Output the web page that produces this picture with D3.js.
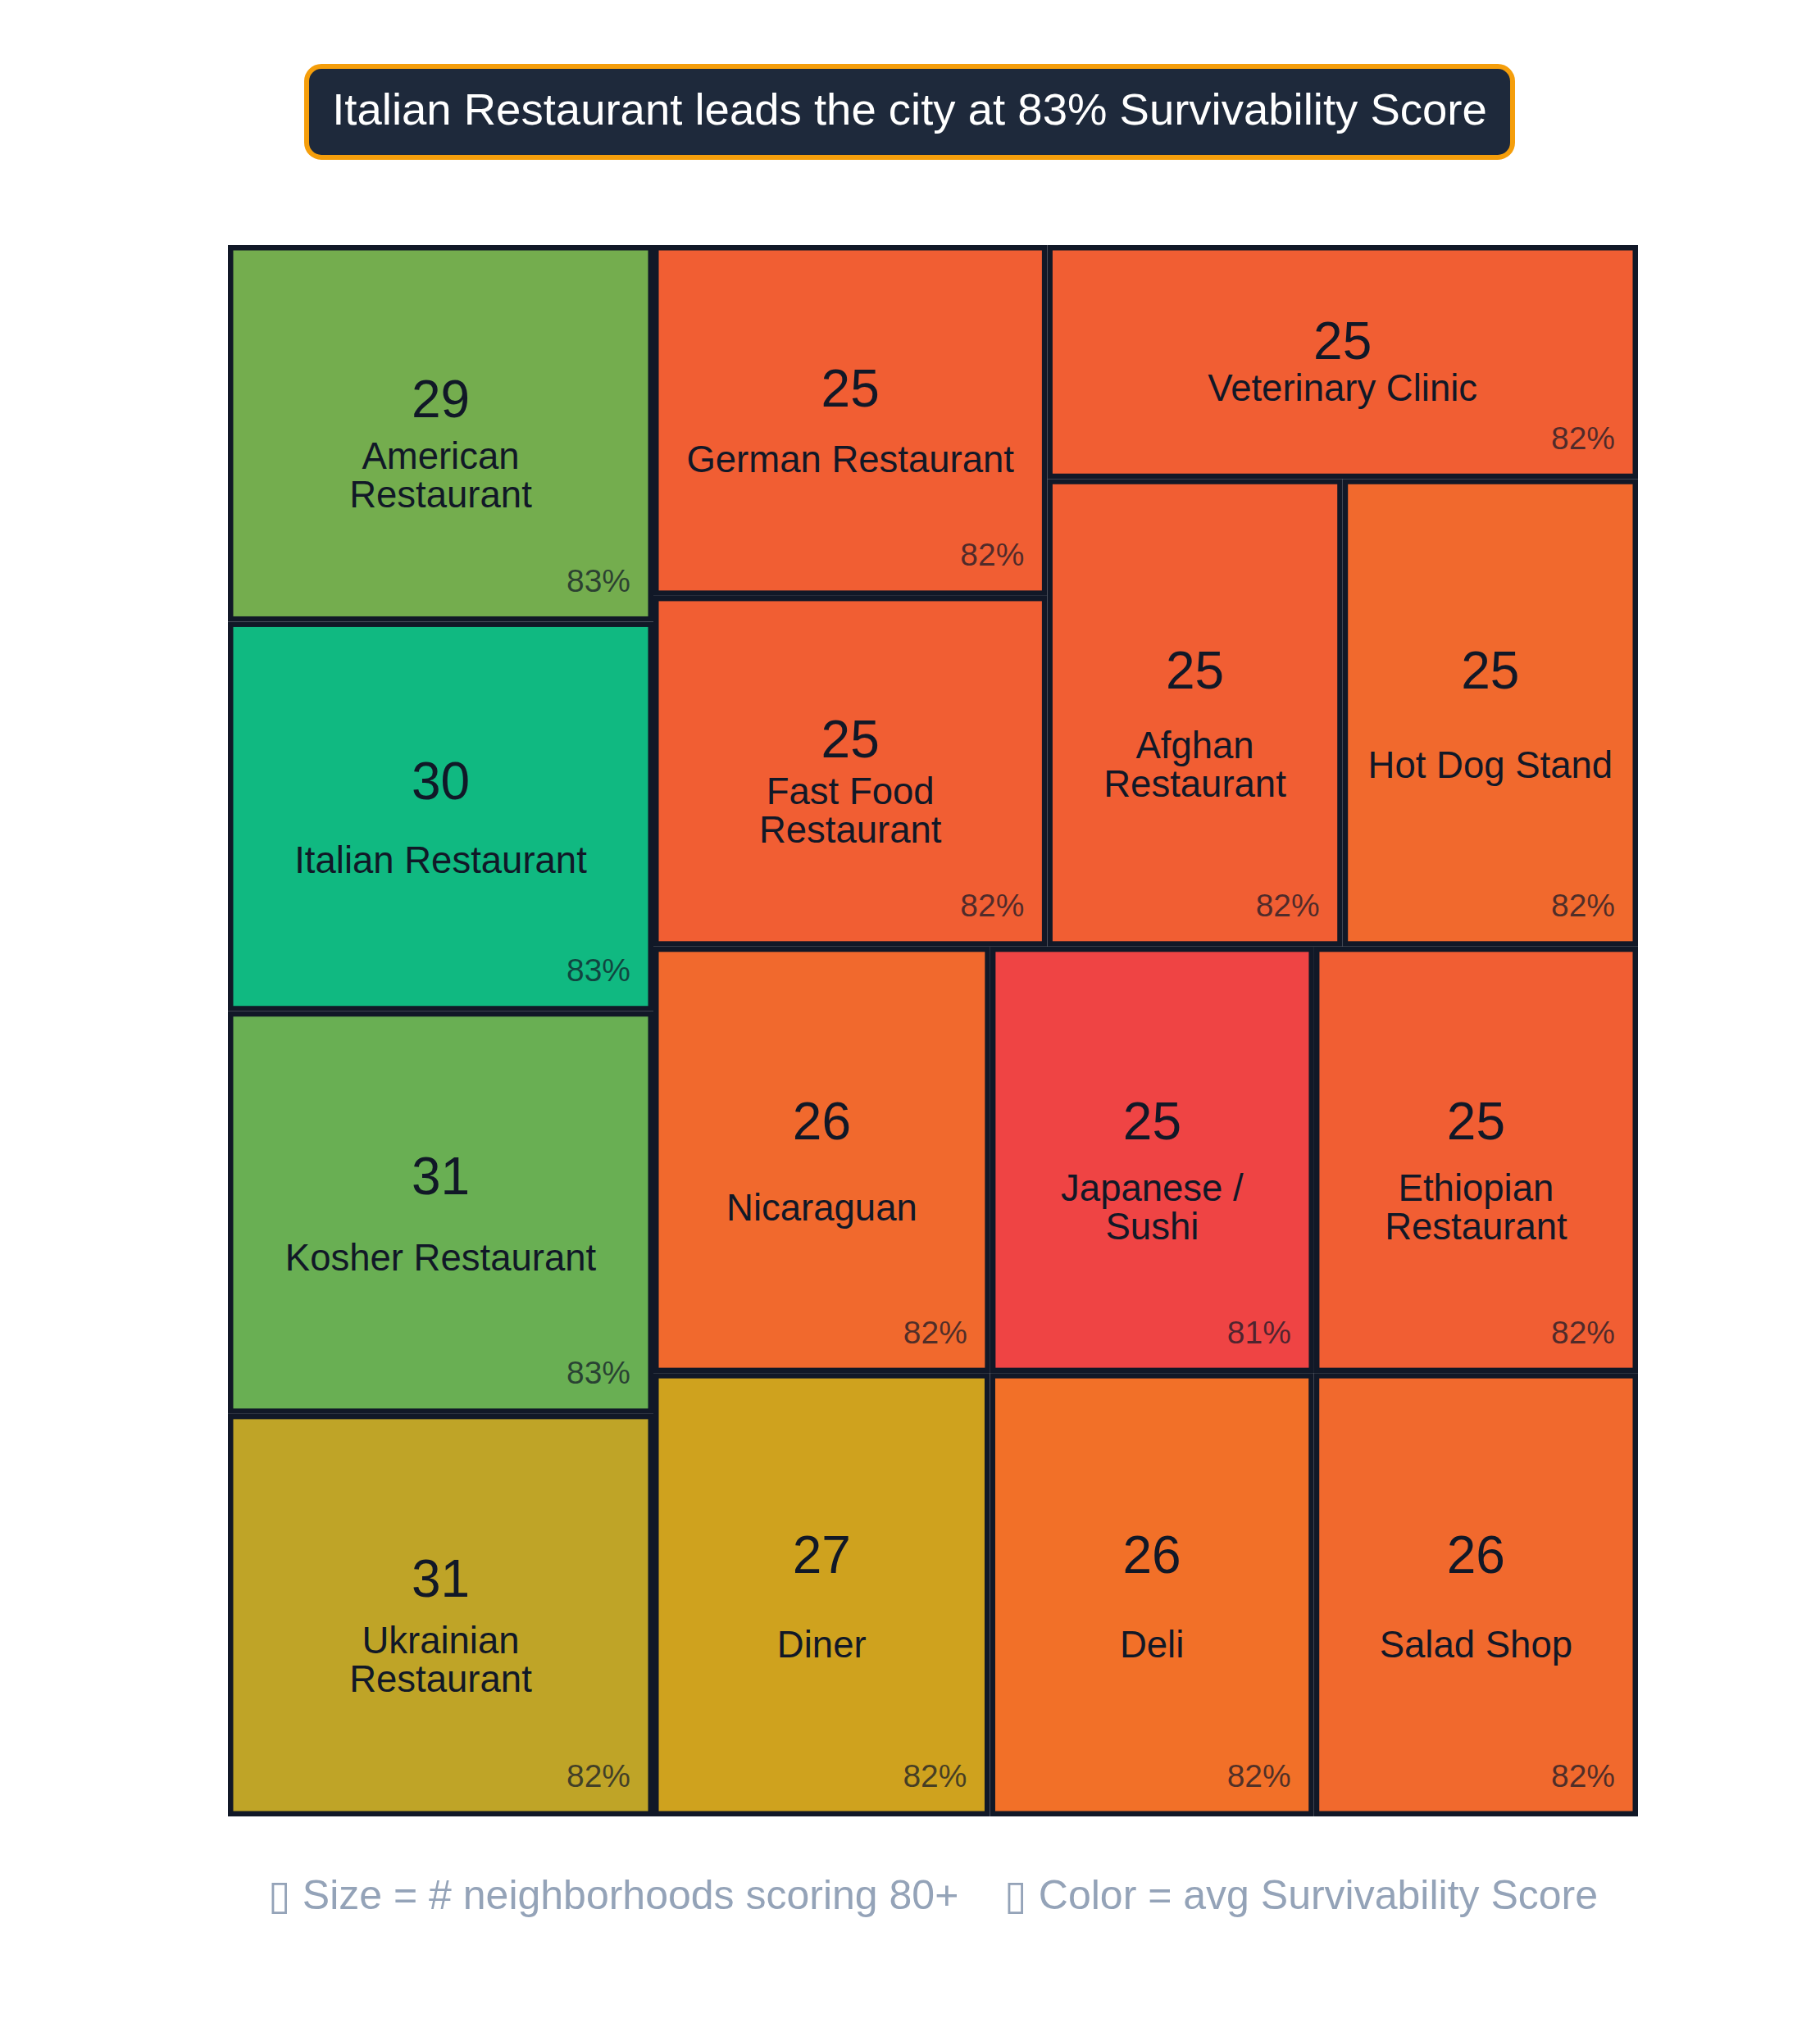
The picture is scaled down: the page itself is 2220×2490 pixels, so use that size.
<!DOCTYPE html>
<html>
<head>
<meta charset="utf-8">
<script src="https://cdn.jsdelivr.net/npm/d3@7"></script>
<style>
  html, body { margin: 0; padding: 0; background: #ffffff; }
  svg { display: block; }
  text { font-family: "Liberation Sans", Arial, Helvetica, sans-serif; }
</style>
</head>
<body>
<svg id="chart" width="2220" height="2490"></svg>
<script>
// ---- data (sorted by neighborhood count, descending) ----
const categories = [
  "Ukrainian Restaurant", "Kosher Restaurant", "Italian Restaurant", "American Restaurant",
  "Diner", "Deli", "Salad Shop", "Nicaraguan", "Japanese / Sushi", "Ethiopian Restaurant",
  "Fast Food Restaurant", "German Restaurant", "Afghan Restaurant", "Hot Dog Stand", "Veterinary Clinic"
];
// # neighborhoods scoring 80+
const counts = [31, 31, 30, 29, 27, 26, 26, 26, 25, 25, 25, 25, 25, 25, 25];
// avg Survivability Score (estimated from colour; shown rounded)
const scores = [82.35, 82.67, 83.0, 82.63, 82.29, 81.72, 81.65, 81.65, 81.3, 81.55, 81.55, 81.55, 81.55, 81.65, 81.55];
const legendItems = ["\u25AF Size = # neighborhoods scoring 80+", "\u25AF Color = avg Survivability Score"];

// ---- setup ----
const W = 2220, H = 2490;
const svg = d3.select("#chart");
svg.append("rect").attr("width", W).attr("height", H).attr("fill", "#ffffff");

const dark = "#111827";
const box = { left: 278, right: 1998, top: 299, bottom: 2216 };

// python-squarify style tiling (unit square, y axis pointing up)
function worstRatio(sizes, dx, dy) {
  const covered = d3.sum(sizes);
  let worst = 0;
  if (dx >= dy) {
    const w = covered / dy;
    for (const s of sizes) { const h = s / w; worst = Math.max(worst, w / h, h / w); }
  } else {
    const h = covered / dx;
    for (const s of sizes) { const w = s / h; worst = Math.max(worst, w / h, h / w); }
  }
  return worst;
}
function squarifyTile(parent, x0, y0, x1, y1) {
  const nodes = parent.children;
  let x = x0, y = y0, dx = x1 - x0, dy = y1 - y0;
  const sizes = nodes.map(n => n.value * dx * dy / parent.value);
  let i0 = 0;
  while (i0 < nodes.length) {
    let i = i0 + 1;
    while (i < nodes.length &&
           worstRatio(sizes.slice(i0, i), dx, dy) >= worstRatio(sizes.slice(i0, i + 1), dx, dy)) i++;
    const row = sizes.slice(i0, i);
    const covered = d3.sum(row);
    if (dx >= dy) {
      const w = covered / dy;
      let yy = y;
      for (let k = i0; k < i; k++) {
        const n = nodes[k];
        n.x0 = x; n.x1 = x + w; n.y0 = yy; n.y1 = yy + sizes[k] / w; yy = n.y1;
      }
      x += w; dx -= w;
    } else {
      const h = covered / dx;
      let xx = x;
      for (let k = i0; k < i; k++) {
        const n = nodes[k];
        n.y0 = y; n.y1 = y + h; n.x0 = xx; n.x1 = xx + sizes[k] / h; xx = n.x1;
      }
      y += h; dy -= h;
    }
    i0 = i;
  }
}

const records = categories.map((c, i) => ({ name: c, count: counts[i], score: scores[i] }));
const root = d3.hierarchy({ children: records })
  .sum(d => d.count || 0)
  .sort((a, b) => b.value - a.value);
d3.treemap().size([100, 100]).tile(squarifyTile)(root);

const xS = d3.scaleLinear().domain([0, 100]).range([box.left, box.right]);
const yS = d3.scaleLinear().domain([0, 100]).range([box.bottom, box.top]);

const [smin, smax] = d3.extent(scores);
const color = d3.scaleLinear()
  .domain([smin, (smin + smax) / 2, smax])
  .range(["#ef4444", "#f59e0b", "#10b981"])
  .interpolate(d3.interpolateRgb)
  .clamp(true);

const fmtPct = d => d3.format(".0f")(d) + "%";

function wrapLabel(label, maxChars) {
  const words = label.split(" ");
  const lines = [];
  let cur = "";
  for (const w of words) {
    if (!cur) cur = w;
    else if ((cur + " " + w).length <= maxChars) cur += " " + w;
    else { lines.push(cur); cur = w; }
  }
  if (cur) lines.push(cur);
  return lines;
}

const strokeW = 6.5;
const g = svg.append("g");
const cells = g.selectAll("g.cell").data(root.leaves()).join("g").attr("class", "cell");

cells.append("rect")
  .attr("x", d => xS(d.x0) + strokeW / 2)
  .attr("y", d => yS(d.y1) + strokeW / 2)
  .attr("width", d => xS(d.x1) - xS(d.x0) - strokeW)
  .attr("height", d => yS(d.y0) - yS(d.y1) - strokeW)
  .attr("fill", d => color(d.data.score))
  .attr("stroke", dark)
  .attr("stroke-width", strokeW);

cells.each(function (d) {
  const sel = d3.select(this);
  const px0 = xS(d.x0), px1 = xS(d.x1), pyTop = yS(d.y1), pyBot = yS(d.y0);
  const cx = (px0 + px1) / 2, cy = (pyTop + pyBot) / 2, h = pyBot - pyTop;

  sel.append("text")
    .attr("x", cx).attr("y", cy - 0.09 * h)
    .attr("text-anchor", "middle").attr("dominant-baseline", "central")
    .attr("font-size", 64).attr("fill", dark)
    .text(d.data.count);

  const maxChars = Math.floor((d.x1 - d.x0) / 2 + 3.5);
  const lines = wrapLabel(d.data.name, maxChars);
  const lh = 47;
  const lc = cy + 0.112 * h;
  lines.forEach((ln, i) => {
    sel.append("text")
      .attr("x", cx).attr("y", lc + (i - (lines.length - 1) / 2) * lh)
      .attr("text-anchor", "middle").attr("dominant-baseline", "central")
      .attr("font-size", 45.5).attr("fill", dark)
      .text(ln);
  });

  sel.append("text")
    .attr("x", px1 - 28).attr("y", pyBot - 50)
    .attr("text-anchor", "end").attr("dominant-baseline", "central")
    .attr("font-size", 39).attr("fill", dark).attr("fill-opacity", 0.72)
    .text(fmtPct(d.data.score));
});

// ---- title badge ----
const best = records.reduce((a, b) => (b.score > a.score ? b : a));
const titleText = `${best.name} leads the city at ${fmtPct(best.score)} Survivability Score`;
const tb = { x: 371, y: 78, w: 1477, h: 117 };
svg.append("rect")
  .attr("x", tb.x + 3).attr("y", tb.y + 3)
  .attr("width", tb.w - 6).attr("height", tb.h - 6)
  .attr("rx", 18).attr("ry", 18)
  .attr("fill", "#1e293b").attr("stroke", "#f59e0b").attr("stroke-width", 6);
svg.append("text")
  .attr("x", tb.x + tb.w / 2).attr("y", tb.y + tb.h / 2 - 3)
  .attr("text-anchor", "middle").attr("dominant-baseline", "central")
  .attr("font-size", 54.5).attr("fill", "#ffffff")
  .text(titleText);

// ---- legend line ----
svg.append("text")
  .attr("x", W / 2 + 28).attr("y", 2312)
  .attr("text-anchor", "middle").attr("dominant-baseline", "central")
  .attr("font-size", 50).attr("fill", "#94a3b8")
  .style("white-space", "pre")
  .text(legendItems.join("    "));
</script>
</body>
</html>
